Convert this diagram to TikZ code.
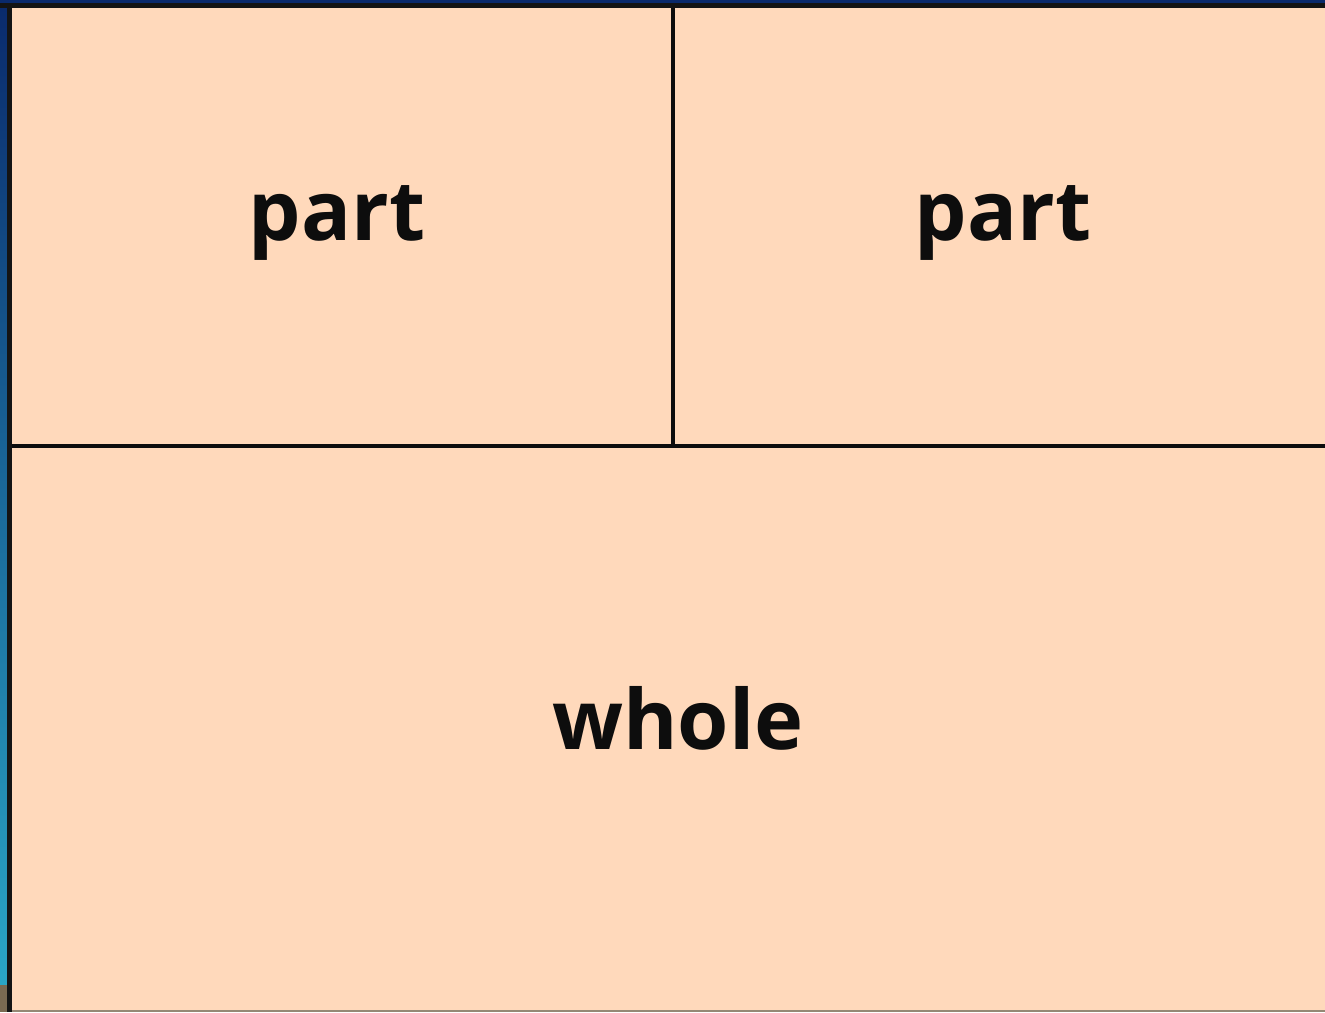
\documentclass[tikz,border=0pt]{standalone}
\usepackage{fontspec}
\setmainfont{Open Sans}
\definecolor{peach}{HTML}{FFD9BB}
\definecolor{navy}{HTML}{0A2A6C}
\definecolor{cyanish}{HTML}{2AA6C6}
\definecolor{brownish}{HTML}{7A6A52}
\tikzset{
  lbl/.style={font=\fontsize{83}{95}\selectfont\bfseries, text=black!95, inner sep=0pt, anchor=base},
  rule/.style={draw=black!95, line width=3.5pt}
}
\begin{document}
\begin{tikzpicture}[x=1pt,y=-1pt]
\useasboundingbox (0,0) rectangle (1325,1012);
\fill[peach] (0,0) rectangle (1325,1012);
\shade[top color=navy, bottom color=cyanish] (0,0) rectangle (7,985);
\fill[brownish] (0,985) rectangle (7,1012);
\fill[navy] (0,0) rectangle (1325,3);
\fill[black!92] (0,3) rectangle (1325,8);
\fill[black!92] (7,3) rectangle (12,1012);
\fill[brownish!80] (12,1010) rectangle (1325,1012);
\coordinate (hl) at (12,446);
\coordinate (hr) at (1325,446);
\coordinate (vt) at (673,8);
\coordinate (vb) at (673,446);
\draw[rule] (hl) -- (hr);
\draw[rule] (vt) -- (vb);
\node[lbl] (p1) at (337,240) {part};
\node[lbl] (p2) at (1003,240) {part};
\node[lbl] (w) at (678,749) {whole};
\end{tikzpicture}
\end{document}
